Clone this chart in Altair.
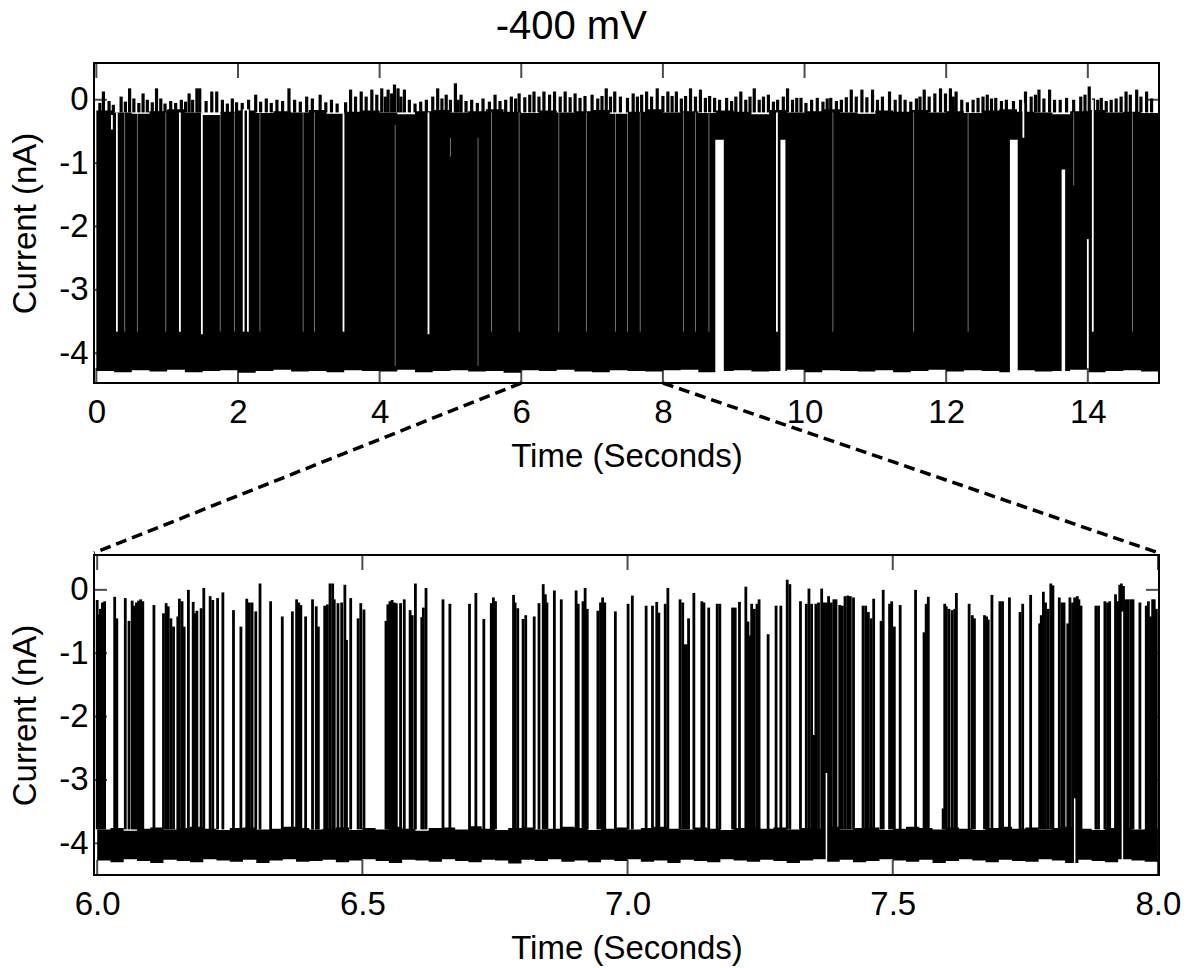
import altair as alt
import pandas as pd

# ------------------------------------------------------------------
# Values
# ------------------------------------------------------------------
TITLE = "-400 mV"
X_TITLE = "Time (Seconds)"
Y_TITLE = "Current (nA)"

TOP_XTICKS = [0, 2, 4, 6, 8, 10, 12, 14]
ZOOM_XTICKS = [6.0, 6.5, 7.0, 7.5, 8.0]
YTICKS = [0, -1, -2, -3, -4]
ZOOM_RANGE = [6.0, 8.0]

# Top panel (0-15 s): upper / lower envelope of the dense trace, every 0.25 s
TOP_ENV_HI = [-0.17, -0.2, -0.22, -0.18, -0.15, -0.2, -0.24, -0.19, -0.17, -0.21,
              -0.18, -0.2, -0.16, -0.22, -0.19, -0.17, -0.2, -0.23, -0.18, -0.16,
              -0.2, -0.18, -0.15, -0.19, -0.21, -0.17, -0.2, -0.18, -0.16, -0.22,
              -0.19, -0.15, -0.2, -0.18, -0.21, -0.17, -0.19, -0.23, -0.16, -0.2,
              -0.18, -0.15, -0.2, -0.22, -0.17, -0.19, -0.16, -0.2, -0.18, -0.21,
              -0.17, -0.15, -0.19, -0.2, -0.23, -0.18, -0.16, -0.2, -0.19, -0.21, -0.4]
TOP_ENV_LO = [-4.28, -4.3, -4.27, -4.29, -4.26, -4.3, -4.28, -4.27, -4.31, -4.28,
              -4.26, -4.29, -4.28, -4.3, -4.27, -4.28, -4.29, -4.26, -4.3, -4.28,
              -4.27, -4.29, -4.28, -4.31, -4.27, -4.28, -4.26, -4.29, -4.3, -4.27,
              -4.28, -4.29, -4.27, -4.26, -4.3, -4.28, -4.27, -4.29, -4.28, -4.26,
              -4.3, -4.27, -4.28, -4.29, -4.27, -4.3, -4.28, -4.26, -4.29, -4.27,
              -4.28, -4.3, -4.27, -4.29, -4.28, -4.26, -4.3, -4.28, -4.27, -4.29, -4.28]

# Top panel: excursions above the open-pore level (time s, peak nA)
TOP_JAG_T = [0.05, 0.10, 0.18, 0.24, 0.35, 0.41, 0.47, 0.53, 0.60, 0.66, 0.72, 0.79, 0.85,
             0.91, 0.97, 1.05, 1.12, 1.20, 1.26, 1.31, 1.36, 1.42, 1.46, 1.55, 1.63, 1.70,
             1.78, 1.85, 1.92, 1.98, 2.06, 2.15, 2.25, 2.32, 2.40, 2.47, 2.55, 2.63, 2.72,
             2.80, 2.88, 2.97, 3.05, 3.16, 3.24, 3.32, 3.40, 3.52, 3.59, 3.66, 3.74, 3.81,
             3.89, 3.96, 4.03, 4.08, 4.12, 4.17, 4.21, 4.26, 4.30, 4.35, 4.42, 4.50, 4.58,
             4.66, 4.75, 4.82, 4.88, 4.94, 5.00, 5.07, 5.11, 5.15, 5.22, 5.30, 5.38, 5.46,
             5.55, 5.63, 5.70, 5.78, 5.86, 5.92, 5.97, 6.05, 6.12, 6.18, 6.25, 6.32, 6.40,
             6.47, 6.55, 6.62, 6.69, 6.76, 6.83, 6.90, 7.00, 7.08, 7.14, 7.20, 7.26, 7.32,
             7.40, 7.50, 7.58, 7.64, 7.70, 7.77, 7.84, 7.92, 8.00, 8.07, 8.13, 8.19, 8.26,
             8.32, 8.39, 8.46, 8.53, 8.60, 8.66, 8.73, 8.80, 8.90, 8.97, 9.03, 9.10, 9.17,
             9.23, 9.29, 9.36, 9.42, 9.49, 9.56, 9.62, 9.70, 9.76, 9.83, 9.89, 9.95, 10.02,
             10.10, 10.18, 10.26, 10.32, 10.37, 10.45, 10.52, 10.59, 10.66, 10.73, 10.81,
             10.88, 10.96, 11.03, 11.10, 11.20, 11.28, 11.35, 11.42, 11.50, 11.58, 11.63,
             11.69, 11.76, 11.84, 11.92, 11.99, 12.06, 12.10, 12.14, 12.22, 12.30, 12.38,
             12.45, 12.52, 12.58, 12.64, 12.70, 12.78, 12.85, 12.95, 13.05, 13.12, 13.20,
             13.26, 13.31, 13.38, 13.46, 13.53, 13.61, 13.70, 13.80, 13.90, 13.96, 14.02,
             14.08, 14.14, 14.19, 14.26, 14.33, 14.40, 14.47, 14.54, 14.60, 14.69, 14.75,
             14.83, 14.90]
TOP_JAG_V = [-0.05, 0.13, -0.02, -0.08, 0.05, -0.03, 0.18, 0.02, -0.05, 0.10, 0.0, -0.04, 0.18,
             0.02, -0.06, -0.02, -0.05, 0.0, -0.03, 0.10, 0.0, 0.18, 0.18, -0.02, 0.13, 0.13,
             0.0, -0.06, 0.02, -0.04, -0.05, 0.0, 0.08, -0.03, 0.02, -0.05, 0.0, -0.02, 0.18,
             0.0, -0.03, 0.05, 0.02, 0.08, -0.04, 0.0, -0.06, -0.04, 0.16, 0.05, 0.13, 0.05,
             0.16, 0.08, 0.18, 0.05, 0.16, 0.10, 0.24, 0.18, 0.05, 0.16, 0.0, -0.06, -0.03,
             0.0, 0.05, 0.18, 0.02, 0.08, 0.0, 0.26, 0.0, 0.08, -0.02, 0.0, -0.05, 0.02,
             -0.03, 0.08, -0.02, 0.0, 0.05, 0.02, 0.10, 0.04, 0.08, 0.13, 0.05, 0.13, 0.08,
             0.13, 0.05, 0.13, 0.04, 0.10, 0.03, 0.06, 0.08, 0.02, 0.06, 0.18, 0.05, 0.13,
             0.05, 0.03, 0.10, 0.05, 0.08, 0.13, 0.05, 0.18, 0.06, 0.13, 0.06, 0.13, 0.02,
             0.06, 0.18, 0.05, 0.16, 0.03, 0.06, 0.03, 0.0, 0.03, -0.02, 0.05, 0.13, 0.0,
             0.05, 0.18, 0.0, 0.05, 0.08, -0.03, 0.0, 0.05, 0.18, 0.0, 0.03, 0.03, -0.05,
             0.0, 0.03, -0.03, 0.02, 0.03, -0.02, 0.0, 0.04, 0.16, 0.05, 0.16,
             0.04, 0.16, 0.0, 0.05, 0.13, 0.0, 0.08, 0.0, -0.03, 0.02, 0.05,
             0.16, 0.05, 0.10, 0.18, 0.10, 0.18, 0.05, 0.13, 0.0, -0.04, 0.0,
             0.03, 0.05, 0.08, 0.02, 0.03, -0.02, 0.0, -0.02, 0.0, 0.13, 0.05,
             0.08, 0.16, 0.02, 0.16, 0.0, 0.0, 0.03, 0.0, 0.05, 0.08, 0.21,
             0.02, 0.0, 0.03, -0.02, 0.0, 0.02, 0.05, 0.13, 0.08, 0.16, 0.05,
             0.13, 0.02]

# Top panel: clear (white) gaps in the black trace: time, upper and lower limit, strength
GAP_T = [0.22, 0.29, 1.18, 1.49, 2.08, 2.14, 3.49, 4.69, 9.61, 13.09, 14.00, 14.07,
         0.40, 0.58, 0.98, 1.75, 1.95, 2.31, 2.92, 3.08, 4.22, 5.00, 5.39, 5.58, 5.97,
         6.53, 6.92, 7.33, 7.50, 7.68, 8.29, 8.46, 8.65, 10.40, 11.54, 12.31, 13.80, 14.63]
GAP_HI = [-0.24, -0.2, -0.2, -0.2, -0.15, -0.15, -0.22, -0.2, -0.2, -0.05, -2.2, 0.0,
          -0.2, -0.2, -0.2, -0.2, -0.2, -0.2, -0.2, -0.2, -0.4, -0.6, -0.6, -0.2, -0.2,
          -0.2, -0.2, -0.2, -0.2, -0.2, -0.2, -0.2, -0.2, -0.2, -0.2, -0.2, -0.2, -0.2]
GAP_LO = [-0.47, -3.66, -3.66, -3.7, -3.66, -3.66, -3.66, -3.7, -3.66, -0.6, -4.35, -3.66,
          -3.66, -3.66, -3.66, -3.66, -3.66, -3.66, -3.66, -3.66, -4.2, -0.9, -4.2, -3.66, -3.66,
          -3.66, -3.66, -3.66, -3.66, -3.66, -3.66, -3.66, -3.66, -3.66, -3.66, -3.66, -1.35, -3.66]
GAP_KIND = ["clear"] * 12 + ["faint"] * 26

# Top panel: long partial-block events (start s, end s, level nA)
BLOCK_T0 = [8.74, 9.66, 12.90, 13.63]
BLOCK_T1 = [8.86, 9.73, 13.01, 13.68]
BLOCK_LEVEL = [-0.63, -0.63, -0.63, -1.1]

# Bottom panel (6-8 s): blocked-level noise band, every 0.025 s
ZOOM_ENV_HI = [-3.78, -3.76, -3.8, -3.77, -3.75, -3.78, -3.76, -3.74, -3.77, -3.79,
               -3.76, -3.75, -3.78, -3.77, -3.74, -3.76, -3.78, -3.77, -3.75, -3.79,
               -3.76, -3.78, -3.74, -3.77, -3.8, -3.76, -3.75, -3.78, -3.73, -3.77,
               -3.79, -3.76, -3.75, -3.78, -3.77, -3.74, -3.76, -3.79, -3.77, -3.75,
               -3.78, -3.76, -3.74, -3.77, -3.78, -3.75, -3.77, -3.79, -3.76, -3.74,
               -3.77, -3.75, -3.78, -3.76, -3.77, -3.74, -3.78, -3.76, -3.75, -3.79,
               -3.77, -3.74, -3.76, -3.78, -3.75, -3.77, -3.79, -3.76, -3.74, -3.77,
               -3.75, -3.78, -3.76, -3.74, -3.77, -3.79, -3.76, -3.75, -3.78, -3.77, -3.76]
ZOOM_ENV_LO = [-4.27, -4.3, -4.25, -4.28, -4.31, -4.26, -4.28, -4.3, -4.25, -4.27,
               -4.29, -4.26, -4.31, -4.27, -4.25, -4.29, -4.28, -4.26, -4.3, -4.27,
               -4.25, -4.28, -4.31, -4.26, -4.27, -4.29, -4.25, -4.28, -4.3, -4.26,
               -4.27, -4.32, -4.26, -4.28, -4.25, -4.29, -4.27, -4.3, -4.26, -4.28,
               -4.25, -4.29, -4.27, -4.31, -4.26, -4.28, -4.3, -4.25, -4.27, -4.29,
               -4.26, -4.28, -4.31, -4.27, -4.25, -4.29, -4.26, -4.3, -4.28, -4.25,
               -4.27, -4.29, -4.26, -4.31, -4.28, -4.25, -4.27, -4.3, -4.26, -4.28,
               -4.29, -4.25, -4.27, -4.31, -4.26, -4.28, -4.3, -4.25, -4.27, -4.29, -4.28]

# Bottom panel: individual translocation spikes (time s, peak nA)
SPIKE_T = [6.000, 6.0025, 6.006, 6.010, 6.014, 6.033, 6.037, 6.053, 6.060, 6.066, 6.070, 6.074,
           6.078, 6.082, 6.086, 6.107, 6.125, 6.130, 6.134, 6.139, 6.144, 6.152, 6.155, 6.160,
           6.164, 6.172, 6.181, 6.184, 6.188, 6.196, 6.201, 6.213, 6.218, 6.227, 6.237, 6.257,
           6.271, 6.282, 6.287, 6.292, 6.299, 6.307, 6.327, 6.349, 6.368, 6.376, 6.380, 6.384,
           6.393, 6.406, 6.413, 6.417, 6.429, 6.434, 6.439, 6.444, 6.447, 6.454, 6.461, 6.467,
           6.470, 6.478, 6.492, 6.497, 6.503, 6.5445, 6.548, 6.552, 6.556, 6.560, 6.564, 6.572,
           6.579, 6.590, 6.594, 6.600, 6.612, 6.615, 6.620, 6.652, 6.665, 6.702, 6.714, 6.729,
           6.743, 6.747, 6.751, 6.785, 6.788, 6.793, 6.803, 6.808, 6.824, 6.833, 6.841, 6.845,
           6.848, 6.862, 6.875, 6.903, 6.907, 6.916, 6.920, 6.924, 6.944, 6.949, 6.953, 6.957,
           6.977, 7.001, 7.009, 7.035, 7.047, 7.055, 7.059, 7.071, 7.076, 7.099, 7.104, 7.107,
           7.111, 7.115, 7.125, 7.140, 7.144, 7.153, 7.169, 7.174, 7.198, 7.203, 7.211, 7.223,
           7.227, 7.231, 7.234, 7.239, 7.244, 7.248, 7.265, 7.280, 7.289, 7.301, 7.306, 7.326,
           7.337, 7.342, 7.347, 7.352, 7.355, 7.360, 7.366, 7.370, 7.375, 7.379, 7.384, 7.389,
           7.393, 7.400, 7.405, 7.410, 7.415, 7.420, 7.426, 7.444, 7.449, 7.454, 7.459, 7.464,
           7.478, 7.482, 7.494, 7.498, 7.503, 7.514, 7.543, 7.559, 7.563, 7.567, 7.595, 7.598,
           7.601, 7.606, 7.612, 7.617, 7.620, 7.644, 7.650, 7.654, 7.673, 7.677, 7.680, 7.687,
           7.702, 7.707, 7.720, 7.740, 7.745, 7.760, 7.777, 7.780, 7.784, 7.788, 7.793, 7.798,
           7.802, 7.814, 7.819, 7.823, 7.830, 7.834, 7.839, 7.843, 7.848, 7.851, 7.855, 7.883,
           7.888, 7.900, 7.905, 7.909, 7.920, 7.924, 7.928, 7.931, 7.935, 7.939, 7.944, 7.949,
           7.953, 7.966, 7.978, 7.982, 7.986, 7.990, 7.993, 7.997]
SPIKE_V = [-0.16, -0.39, -0.30, -0.20, -0.18, -0.11, -0.45, -0.13, -0.49, -0.17, -0.25, -0.20,
           -0.17, -0.15, -0.18, -0.24, -0.37, -0.21, -0.26, -0.45, -0.58, -0.42, -0.14, -0.18,
           -0.58, 0.00, -0.19, -0.37, -0.33, -0.29, 0.03, -0.10, -0.16, -0.13, -0.04, -0.32,
           -0.58, -0.14, -0.20, -0.20, -0.34, 0.10, -0.18, -0.42, -0.34, -0.15, -0.20, -0.24,
           -0.42, -0.15, -0.26, -0.58, -0.25, -0.23, 0.10, 0.10, -0.15, -0.21, -0.20, 0.08,
           -0.79, -0.13, -0.45, -0.21, -0.31, -0.49, -0.23, -0.18, -0.16, -0.20, -0.21, -0.21,
           -0.15, -0.32, -0.40, 0.10, -0.43, -0.28, 0.03, -0.15, -0.22, -0.22, -0.05, -0.46,
           -0.21, -0.12, -0.18, -0.08, -0.20, -0.29, -0.46, -0.40, -0.42, -0.21, 0.09, -0.07,
           -0.20, -0.01, -0.15, -0.01, -0.22, -0.18, 0.03, -0.30, -0.33, -0.20, -0.12, -0.20,
           -0.34, -0.22, -0.09, -0.25, -0.25, -0.19, -0.36, -0.22, 0.03, -0.15, -0.20, -0.86,
           -0.86, -0.45, -0.05, -0.18, -0.20, -0.28, -0.22, -0.22, -0.28, -0.28, -0.19, 0.05,
           -0.50, -0.72, -0.22, -0.30, -0.22, -0.15, -0.70, -0.25, -0.25, 0.16, 0.09, -0.18,
           -0.22, 0.02, -0.22, -2.29, -0.22, -0.20, 0.02, -0.20, -0.20, -0.10, -0.20, -0.15,
           -0.15, -0.24, -0.25, -0.10, -0.09, -0.10, -0.12, -0.25, -0.25, -0.35, -0.45, -0.14,
           -0.49, 0.00, -0.22, -0.18, -0.58, -0.24, 0.00, -0.67, -0.22, -0.11, -3.45, -0.22,
           -0.26, -0.30, -0.32, -0.30, -0.05, -0.22, -0.40, -0.45, -0.40, -0.42, -0.47, -0.08,
           -0.18, -0.18, -0.12, -0.35, -0.22, -0.08, -0.53, -0.40, -0.03, -0.20, -0.30, 0.10,
           0.07, -0.12, -0.20, -0.20, -0.53, -0.12, -0.20, -0.12, -0.10, -0.15, -0.25, -0.25,
           -0.25, -0.18, -0.20, -0.18, -0.07, -0.18, 0.08, 0.10, 0.06, -0.15, -0.15, -0.15,
           -0.15, -0.20, -0.25, -0.18, -0.42, -0.15, -0.15, -0.30]
SPIKE_BASE = -3.78

# Bottom panel: clear notches inside bursts (time s, upper limit nA)
ZGAP_T = [7.375, 7.843, 7.933]
ZGAP_HI = [-2.89, -3.29, -0.34]

# ------------------------------------------------------------------
# Layout / style
# ------------------------------------------------------------------
W, H, GAP = 1065, 320, 172
FONT = "Liberation Sans"
FS = 33
TOP_XDOM = [-0.033, 15.005]
ZOOM_XDOM = [5.994, 8.002]
TOP_YDOM = [-4.47, 0.58]
ZOOM_YDOM = [-4.5, 0.55]


def make_x(field, scale, values, fmt):
    return alt.X(field, scale=scale,
                 axis=alt.Axis(values=values, format=fmt, title=X_TITLE, ticks=False,
                               domain=False, grid=False, labelPadding=13, titlePadding=11,
                               labelFlush=False))


def make_y(field, scale):
    return alt.Y(field, scale=scale,
                 axis=alt.Axis(values=YTICKS, labelExpr="toString(datum.value)", title=Y_TITLE,
                               ticks=False, domain=False, grid=False, labelPadding=6,
                               titlePadding=16))


def frame_ticks(xticks, xenc, yenc):
    xdf = pd.DataFrame({"v": xticks})
    ydf = pd.DataFrame({"v": YTICKS})
    xt = alt.Chart(xdf).mark_tick(orient="vertical", size=15, thickness=2, color="black")
    yt = alt.Chart(ydf).mark_tick(orient="horizontal", size=13, thickness=2, color="black")
    return [
        xt.encode(x=xenc("v:Q"), y=alt.value(H - 7.5)),
        xt.encode(x=xenc("v:Q"), y=alt.value(7.5)),
        yt.encode(y=yenc("v:Q"), x=alt.value(6.5)),
        yt.encode(y=yenc("v:Q"), x=alt.value(W - 6.5)),
    ]


# ---------------- top panel ----------------
txs = alt.Scale(domain=TOP_XDOM, nice=False, zero=False)
tys = alt.Scale(domain=TOP_YDOM, nice=False, zero=False)
TX = lambda f: make_x(f, txs, TOP_XTICKS, "d")
TY = lambda f: make_y(f, tys)

n = len(TOP_ENV_HI)
top_env = pd.DataFrame({
    "t": [15.0 * i / (n - 1) for i in range(n)],
    "hi": TOP_ENV_HI,
    "lo": TOP_ENV_LO[:n],
})
top_band = alt.Chart(top_env).mark_area(color="black", interpolate="step-after", clip=True).encode(
    x=TX("t:Q"), y=TY("lo:Q"), y2="hi:Q",
)

jag = pd.DataFrame({"t": TOP_JAG_T, "v": TOP_JAG_V, "b": [-0.2] * len(TOP_JAG_T)})
top_jag = alt.Chart(jag).mark_rule(color="black", strokeWidth=3.2, clip=True).encode(
    x=TX("t:Q"), y=TY("b:Q"), y2="v:Q",
)

gaps = pd.DataFrame({"t": GAP_T, "hi": GAP_HI, "lo": GAP_LO, "kind": GAP_KIND})
top_gap_clear = alt.Chart(gaps).transform_filter(alt.datum.kind == "clear").mark_rule(
    color="white", strokeWidth=1.8, clip=True).encode(x=TX("t:Q"), y=TY("hi:Q"), y2="lo:Q")
top_gap_faint = alt.Chart(gaps).transform_filter(alt.datum.kind == "faint").mark_rule(
    color="white", strokeWidth=1, opacity=0.45, clip=True).encode(x=TX("t:Q"), y=TY("hi:Q"), y2="lo:Q")

blocks = pd.DataFrame({"t0": BLOCK_T0, "t1": BLOCK_T1, "lvl": BLOCK_LEVEL,
                       "floor": [-4.45] * len(BLOCK_T0)})
top_blocks = alt.Chart(blocks).mark_rect(color="white", clip=True).encode(
    x=TX("t0:Q"), x2="t1:Q", y=TY("floor:Q"), y2="lvl:Q",
)

zr = pd.DataFrame({"t": ZOOM_RANGE})
dash_left = alt.Chart(zr).transform_filter(alt.datum.t == ZOOM_RANGE[0]).mark_rule(
    color="black", strokeWidth=3.5, strokeDash=[11, 6]).encode(
    x=TX("t:Q"), x2=alt.value(0), y=alt.value(H), y2=alt.value(H + GAP - 2),
)
dash_right = alt.Chart(zr).transform_filter(alt.datum.t == ZOOM_RANGE[1]).mark_rule(
    color="black", strokeWidth=3.5, strokeDash=[11, 6]).encode(
    x=TX("t:Q"), x2=alt.value(W), y=alt.value(H), y2=alt.value(H + GAP - 2),
)

top = alt.layer(
    top_band, top_jag, top_gap_faint, top_gap_clear, top_blocks,
    *frame_ticks(TOP_XTICKS, TX, TY), dash_left, dash_right,
).properties(width=W, height=H)

# ---------------- bottom (zoom) panel ----------------
zxs = alt.Scale(domain=ZOOM_XDOM, nice=False, zero=False)
zys = alt.Scale(domain=ZOOM_YDOM, nice=False, zero=False)
ZX = lambda f: make_x(f, zxs, ZOOM_XTICKS, ".1f")
ZY = lambda f: make_y(f, zys)

m = len(ZOOM_ENV_HI)
zenv = pd.DataFrame({
    "t": [6.0 + 2.0 * i / (m - 1) for i in range(m)],
    "hi": ZOOM_ENV_HI,
    "lo": ZOOM_ENV_LO[:m],
})
z_band = alt.Chart(zenv).mark_area(color="black", interpolate="step-after", clip=True).encode(
    x=ZX("t:Q"), y=ZY("lo:Q"), y2="hi:Q",
)

spk = pd.DataFrame({"t": SPIKE_T, "v": SPIKE_V, "b": [SPIKE_BASE] * len(SPIKE_T)})
z_spk = alt.Chart(spk).mark_rule(color="black", strokeWidth=2.8, clip=True).encode(
    x=ZX("t:Q"), y=ZY("b:Q"), y2="v:Q",
)

zg = pd.DataFrame({"t": ZGAP_T, "hi": ZGAP_HI, "lo": [-4.4] * len(ZGAP_T)})
z_gap = alt.Chart(zg).mark_rule(color="white", strokeWidth=1.5, clip=True).encode(
    x=ZX("t:Q"), y=ZY("hi:Q"), y2="lo:Q",
)

bottom = alt.layer(
    z_band, z_spk, z_gap, *frame_ticks(ZOOM_XTICKS, ZX, ZY),
).properties(width=W, height=H)

chart = alt.vconcat(top, bottom, spacing=GAP, bounds="flush").properties(
    title=alt.TitleParams(TITLE, fontSize=40, font=FONT, fontWeight="normal",
                          anchor="middle", color="black", offset=15, dx=-24),
    padding={"left": 8, "right": 2, "top": 7, "bottom": 5},
).configure_view(
    stroke="black", strokeWidth=2,
).configure_axis(
    labelFont=FONT, labelFontSize=FS, labelColor="black",
    titleFont=FONT, titleFontSize=FS, titleFontWeight="normal", titleColor="black",
)

chart.save("out.html", embed_options={"renderer": "svg", "actions": False})
